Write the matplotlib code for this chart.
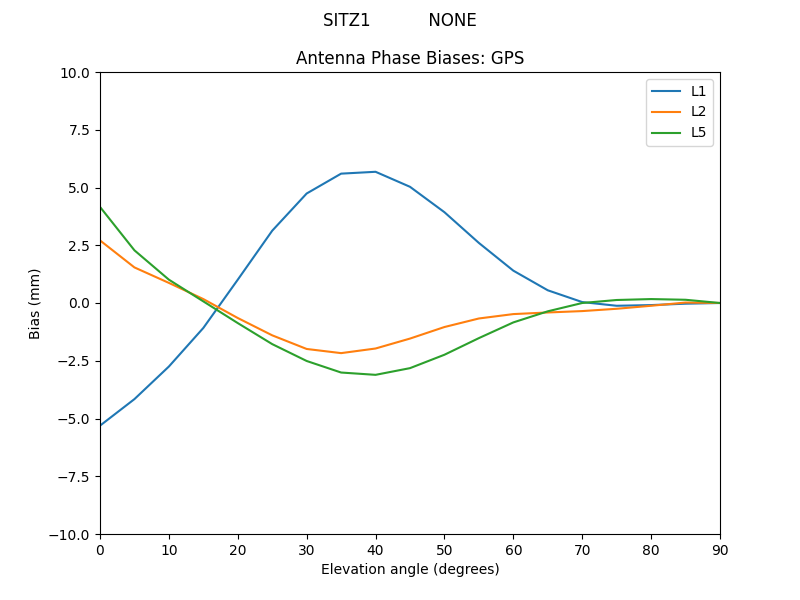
import matplotlib
matplotlib.use("Agg")
import matplotlib.pyplot as plt

elev = [0, 5, 10, 15, 20, 25, 30, 35, 40, 45, 50, 55, 60, 65, 70, 75, 80, 85, 90]
l1 = [-5.31, -4.16, -2.75, -1.08, 1.01, 3.13, 4.74, 5.60, 5.68, 5.03, 3.93, 2.60, 1.40, 0.55, 0.04, -0.12, -0.09, -0.03, 0.0]
l2 = [2.71, 1.54, 0.87, 0.17, -0.65, -1.40, -1.99, -2.17, -1.97, -1.54, -1.04, -0.67, -0.48, -0.41, -0.35, -0.25, -0.12, 0.02, 0.0]
l5 = [4.16, 2.28, 1.01, 0.07, -0.87, -1.78, -2.51, -3.01, -3.11, -2.82, -2.24, -1.52, -0.84, -0.36, 0.0, 0.13, 0.17, 0.14, 0.0]

fig, ax = plt.subplots(figsize=(8, 6), dpi=100)
fig.suptitle("SITZ1           NONE")
ax.plot(elev, l1, label="L1")
ax.plot(elev, l2, label="L2")
ax.plot(elev, l5, label="L5")
ax.set_xlim(0, 90)
ax.set_ylim(-10, 10)
ax.set_title("Antenna Phase Biases: GPS")
ax.set_xlabel("Elevation angle (degrees)")
ax.set_ylabel("Bias (mm)")
ax.legend(loc="upper right")
fig.savefig("out.png")
